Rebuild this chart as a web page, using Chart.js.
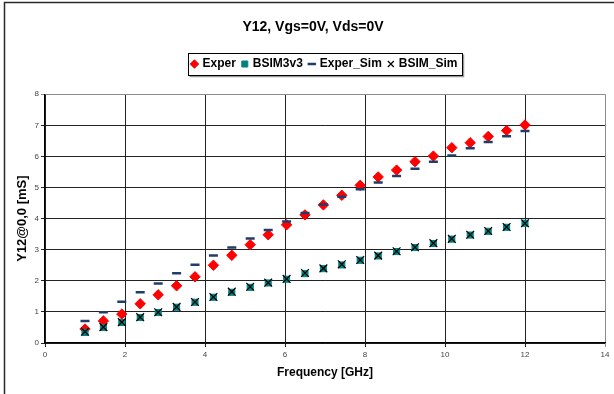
<!DOCTYPE html>
<html>
<head>
<meta charset="utf-8">
<script src="https://cdn.jsdelivr.net/npm/chart.js@4"></script>
<style>
  html, body { margin: 0; padding: 0; background: #fff; }
  #wrap { width: 614px; height: 394px; position: relative; }
</style>
</head>
<body>
<div id="wrap"><canvas id="y12Chart" width="614" height="394"></canvas></div>
<script>
// data
const freq = [1.00, 1.46, 1.92, 2.38, 2.83, 3.29, 3.75, 4.21, 4.67, 5.13, 5.58, 6.04, 6.50,
              6.96, 7.42, 7.88, 8.33, 8.79, 9.25, 9.71, 10.17, 10.63, 11.08, 11.54, 12.00];
const exper    = [0.45, 0.71, 0.93, 1.26, 1.55, 1.84, 2.13, 2.50, 2.82, 3.16, 3.48, 3.80, 4.12,
                  4.44, 4.75, 5.07, 5.34, 5.56, 5.83, 6.01, 6.28, 6.44, 6.64, 6.83, 7.01];
const bsim3v3  = [0.34, 0.50, 0.66, 0.82, 0.98, 1.15, 1.31, 1.47, 1.63, 1.79, 1.93, 2.05, 2.23,
                  2.39, 2.51, 2.66, 2.80, 2.94, 3.07, 3.20, 3.34, 3.47, 3.59, 3.72, 3.85];
const experSim = [0.71, 0.99, 1.33, 1.63, 1.91, 2.24, 2.52, 2.81, 3.07, 3.36, 3.63, 3.91, 4.18,
                  4.45, 4.70, 4.94, 5.16, 5.37, 5.60, 5.83, 6.03, 6.26, 6.46, 6.65, 6.82];
const bsimSim  = [0.36, 0.51, 0.67, 0.83, 0.99, 1.16, 1.32, 1.48, 1.65, 1.81, 1.94, 2.06, 2.25,
                  2.40, 2.53, 2.67, 2.81, 2.95, 3.08, 3.21, 3.35, 3.48, 3.60, 3.73, 3.85];
const xTicks = [0, 2, 4, 6, 8, 10, 12, 14];
const yTicks = [0, 1, 2, 3, 4, 5, 6, 7, 8];

const FONT = "'Liberation Sans', Arial, sans-serif";

function pts(ys) {
  return freq.map((x, i) => ({ x: x, y: ys[i] }));
}

// frame, title and legend box
const decorPlugin = {
  id: 'decor',
  beforeDraw(chart) {
    const ctx = chart.ctx;
    ctx.save();
    ctx.fillStyle = '#fff';
    ctx.fillRect(0, 0, chart.width, chart.height);
    ctx.strokeStyle = '#2a2a2a';
    ctx.lineWidth = 1.5;
    ctx.beginPath();
    ctx.moveTo(4.5, chart.height);
    ctx.lineTo(4.5, 2.5);
    ctx.lineTo(chart.width, 2.5);
    ctx.stroke();
    ctx.restore();
  },
  afterDraw(chart) {
    const ctx = chart.ctx;
    ctx.save();
    ctx.fillStyle = '#000';
    ctx.font = 'bold 14px ' + FONT;
    ctx.textAlign = 'center';
    ctx.textBaseline = 'middle';
    ctx.fillText('Y12, Vgs=0V, Vds=0V', 313, 27);

    const boxes = chart.legend.legendHitBoxes;
    if (boxes && boxes.length) {
      const l = Math.min(...boxes.map(b => b.left)) - 4;
      const r = Math.max(...boxes.map(b => b.left + b.width)) + 4;
      const cy = boxes[0].top + boxes[0].height / 2;
      const t = Math.round(cy - 11) + 0.5;
      const b = Math.round(cy + 11) + 0.5;
      const L = Math.round(l) + 0.5, R = Math.round(r) + 0.5;
      ctx.strokeStyle = '#999';
      ctx.lineWidth = 1.5;
      ctx.beginPath();
      ctx.moveTo(L + 1, b + 1);
      ctx.lineTo(R + 1, b + 1);
      ctx.lineTo(R + 1, t + 1);
      ctx.stroke();
      ctx.strokeStyle = '#000';
      ctx.lineWidth = 1;
      ctx.strokeRect(L, t, R - L, b - t);
    }
    ctx.restore();
  }
};

const gridColor = (max) => (c) => (c.tick && c.tick.value === max ? '#8c8c8c' : '#222');

new Chart(document.getElementById('y12Chart').getContext('2d'), {
  type: 'scatter',
  data: {
    datasets: [{
      label: 'Exper',
      data: pts(exper),
      pointStyle: 'rectRot',
      pointRadius: 5.2,
      backgroundColor: '#ff0000',
      borderColor: '#ff0000',
      borderWidth: 1,
      order: 3
    }, {
      label: 'BSIM3v3',
      data: pts(bsim3v3),
      pointStyle: 'rect',
      pointRadius: 4.3,
      backgroundColor: '#008080',
      borderColor: '#008080',
      borderWidth: 1,
      order: 2
    }, {
      label: 'Exper_Sim',
      data: pts(experSim),
      pointStyle: 'line',
      pointRadius: 4.5,
      backgroundColor: '#1f3d6b',
      borderColor: '#1f3d6b',
      borderWidth: 2.5,
      order: 1
    }, {
      label: 'BSIM_Sim',
      data: pts(bsimSim),
      pointStyle: 'crossRot',
      pointRadius: 5.5,
      backgroundColor: '#000',
      borderColor: '#000',
      borderWidth: 1.2,
      order: 0
    }]
  },
  options: {
    responsive: false,
    animation: false,
    events: [],
    layout: { padding: { top: 51, left: 8, right: 9, bottom: 14 } },
    plugins: {
      title: { display: false },
      // empty subtitle used as a spacer between the legend and the plot
      subtitle: {
        display: true,
        text: '',
        position: 'top',
        weight: 500,
        font: { size: 1 },
        padding: { top: 13, bottom: 0 }
      },
      tooltip: { enabled: false },
      legend: {
        display: true,
        position: 'top',
        fullSize: false,
        labels: {
          usePointStyle: true,
          boxWidth: 4,
          boxHeight: 6,
          padding: 7,
          color: '#000',
          font: { family: FONT, size: 12, weight: 'bold' },
          sort: (a, b) => a.datasetIndex - b.datasetIndex
        }
      }
    },
    scales: {
      x: {
        type: 'linear',
        min: 0,
        max: 14,
        afterBuildTicks: (s) => { s.ticks = xTicks.map(v => ({ value: v })); },
        afterFit: (s) => { s.height = 37; },
        grid: { color: gridColor(14), lineWidth: 1, tickLength: 4 },
        border: { color: '#000', width: 1.2 },
        ticks: { color: '#444', padding: 3, maxRotation: 0, font: { family: FONT, size: 8 } },
        title: {
          display: true,
          text: 'Frequency [GHz]',
          color: '#000',
          padding: { top: 6, bottom: 0 },
          font: { family: FONT, size: 12, weight: 'bold' }
        }
      },
      y: {
        type: 'linear',
        min: 0,
        max: 8,
        afterBuildTicks: (s) => { s.ticks = yTicks.map(v => ({ value: v })); },
        afterFit: (s) => { s.width = 37; },
        grid: { color: gridColor(8), lineWidth: 1, tickLength: 4 },
        border: { color: '#000', width: 1.2 },
        ticks: { color: '#444', padding: 2, font: { family: FONT, size: 8 } },
        title: {
          display: true,
          text: 'Y12@0,0 [mS]',
          color: '#000',
          padding: { top: 7, bottom: 0 },
          font: { family: FONT, size: 13, weight: 'bold' }
        }
      }
    }
  },
  plugins: [decorPlugin]
});
</script>
</body>
</html>
